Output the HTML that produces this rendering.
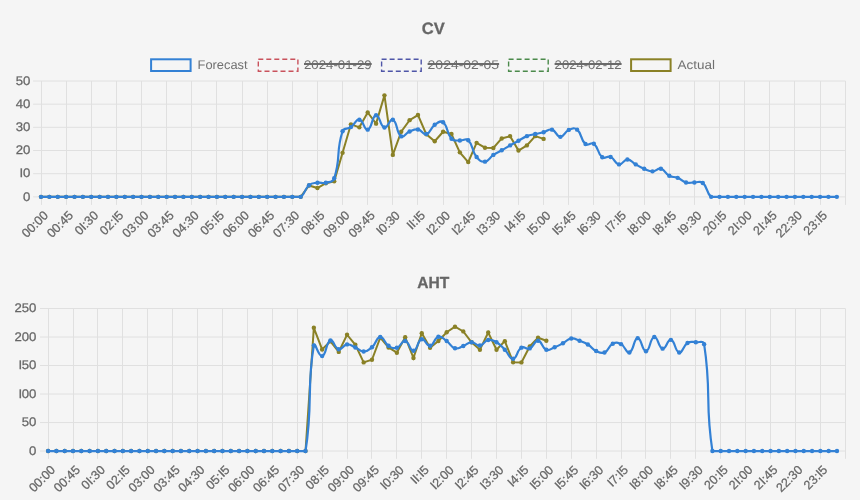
<!DOCTYPE html><html><head><meta charset="utf-8"><style>html,body{margin:0;padding:0;background:#f5f5f5;width:860px;height:500px;overflow:hidden}svg{display:block;will-change:transform}text{text-rendering:geometricPrecision}</style></head><body><svg width="860" height="500" viewBox="0 0 860 500"><text x="433.2" y="33.5" text-anchor="middle" font-family="'Liberation Sans', sans-serif" font-size="16.5" font-weight="bold" fill="#666" stroke="#666" stroke-width="0.3">CV</text><text x="433.2" y="288.1" text-anchor="middle" font-family="'Liberation Sans', sans-serif" font-size="16" font-weight="bold" fill="#666" stroke="#666" stroke-width="0.3" textLength="32" lengthAdjust="spacingAndGlyphs">AHT</text><rect x="151.1" y="59.3" width="39.5" height="11.7" fill="none" stroke="#3381d5" stroke-width="2"/><text x="197.6" y="68.9" font-family="'Liberation Sans', sans-serif" font-size="12.5" fill="#707070" textLength="50" lengthAdjust="spacingAndGlyphs">Forecast</text><rect x="258.3" y="59.2" width="39.6" height="12" fill="none" stroke="#c9525c" stroke-width="1.4" stroke-dasharray="5 3"/><text x="304" y="68.9" font-family="'Liberation Sans', sans-serif" font-size="12.5" fill="#707070" textLength="67.7" lengthAdjust="spacingAndGlyphs">2024-01-29</text><line x1="304" y1="64" x2="371.7" y2="64" stroke="#6a6a6a" stroke-width="1.8"/><rect x="381.6" y="59.2" width="39.6" height="12" fill="none" stroke="#4f56a8" stroke-width="1.4" stroke-dasharray="5 3"/><text x="427.6" y="68.9" font-family="'Liberation Sans', sans-serif" font-size="12.5" fill="#707070" textLength="71.5" lengthAdjust="spacingAndGlyphs">2024-02-05</text><line x1="427.6" y1="64" x2="499.1" y2="64" stroke="#6a6a6a" stroke-width="1.8"/><rect x="508.6" y="59.2" width="39.6" height="12" fill="none" stroke="#4b8a4b" stroke-width="1.4" stroke-dasharray="5 3"/><text x="554.6" y="68.9" font-family="'Liberation Sans', sans-serif" font-size="12.5" fill="#707070" textLength="67" lengthAdjust="spacingAndGlyphs">2024-02-12</text><line x1="554.6" y1="64" x2="621.6" y2="64" stroke="#6a6a6a" stroke-width="1.8"/><rect x="631.1" y="59.3" width="39.5" height="11.7" fill="none" stroke="#8a8126" stroke-width="2"/><text x="677.6" y="68.9" font-family="'Liberation Sans', sans-serif" font-size="12.5" fill="#707070" textLength="37.5" lengthAdjust="spacingAndGlyphs">Actual</text><g stroke="#e0e0e0" stroke-width="1"><line x1="33.1" y1="196.85" x2="845.5" y2="196.85"/><line x1="33.1" y1="173.68" x2="845.5" y2="173.68"/><line x1="33.1" y1="150.51" x2="845.5" y2="150.51"/><line x1="33.1" y1="127.34" x2="845.5" y2="127.34"/><line x1="33.1" y1="104.17" x2="845.5" y2="104.17"/><line x1="33.1" y1="81" x2="845.5" y2="81"/><line x1="41.5" y1="81" x2="41.5" y2="204.9"/><line x1="66.5" y1="81" x2="66.5" y2="204.9"/><line x1="91.5" y1="81" x2="91.5" y2="204.9"/><line x1="116.5" y1="81" x2="116.5" y2="204.9"/><line x1="141.5" y1="81" x2="141.5" y2="204.9"/><line x1="166.5" y1="81" x2="166.5" y2="204.9"/><line x1="191.5" y1="81" x2="191.5" y2="204.9"/><line x1="216.5" y1="81" x2="216.5" y2="204.9"/><line x1="242.5" y1="81" x2="242.5" y2="204.9"/><line x1="267.5" y1="81" x2="267.5" y2="204.9"/><line x1="292.5" y1="81" x2="292.5" y2="204.9"/><line x1="317.5" y1="81" x2="317.5" y2="204.9"/><line x1="342.5" y1="81" x2="342.5" y2="204.9"/><line x1="367.5" y1="81" x2="367.5" y2="204.9"/><line x1="392.5" y1="81" x2="392.5" y2="204.9"/><line x1="417.5" y1="81" x2="417.5" y2="204.9"/><line x1="443.5" y1="81" x2="443.5" y2="204.9"/><line x1="468.5" y1="81" x2="468.5" y2="204.9"/><line x1="493.5" y1="81" x2="493.5" y2="204.9"/><line x1="518.5" y1="81" x2="518.5" y2="204.9"/><line x1="543.5" y1="81" x2="543.5" y2="204.9"/><line x1="568.5" y1="81" x2="568.5" y2="204.9"/><line x1="593.5" y1="81" x2="593.5" y2="204.9"/><line x1="619.5" y1="81" x2="619.5" y2="204.9"/><line x1="644.5" y1="81" x2="644.5" y2="204.9"/><line x1="669.5" y1="81" x2="669.5" y2="204.9"/><line x1="694.5" y1="81" x2="694.5" y2="204.9"/><line x1="719.5" y1="81" x2="719.5" y2="204.9"/><line x1="744.5" y1="81" x2="744.5" y2="204.9"/><line x1="769.5" y1="81" x2="769.5" y2="204.9"/><line x1="794.5" y1="81" x2="794.5" y2="204.9"/><line x1="820.5" y1="81" x2="820.5" y2="204.9"/><line x1="845.5" y1="81" x2="845.5" y2="204.9"/></g><g fill="#666666" font-size="12.5" font-family="'Liberation Sans', sans-serif" stroke="#666666" stroke-width="0.25"><text transform="translate(30.3 200.65) scale(1.055 1)" text-anchor="end">0</text><text transform="translate(30.3 177.48) scale(1.055 1)" text-anchor="end">I<tspan dx="-0.3">0</tspan></text><text transform="translate(30.3 154.31) scale(1.055 1)" text-anchor="end">20</text><text transform="translate(30.3 131.14) scale(1.055 1)" text-anchor="end">30</text><text transform="translate(30.3 107.97) scale(1.055 1)" text-anchor="end">40</text><text transform="translate(30.3 84.8) scale(1.055 1)" text-anchor="end">50</text></g><g fill="#666666" font-size="12.5" font-family="'Liberation Sans', sans-serif" stroke="#666666" stroke-width="0.25"><text transform="translate(48.9 216.2) rotate(-45)" x="0" y="0" text-anchor="end">00:00</text><text transform="translate(74.03 216.2) rotate(-45)" x="0" y="0" text-anchor="end">00:45</text><text transform="translate(99.16 216.2) rotate(-45)" x="0" y="0" text-anchor="end">0I<tspan dx="-0.3">:</tspan>30</text><text transform="translate(124.29 216.2) rotate(-45)" x="0" y="0" text-anchor="end">02:I<tspan dx="-0.3">5</tspan></text><text transform="translate(149.42 216.2) rotate(-45)" x="0" y="0" text-anchor="end">03:00</text><text transform="translate(174.56 216.2) rotate(-45)" x="0" y="0" text-anchor="end">03:45</text><text transform="translate(199.69 216.2) rotate(-45)" x="0" y="0" text-anchor="end">04:30</text><text transform="translate(224.82 216.2) rotate(-45)" x="0" y="0" text-anchor="end">05:I<tspan dx="-0.3">5</tspan></text><text transform="translate(249.95 216.2) rotate(-45)" x="0" y="0" text-anchor="end">06:00</text><text transform="translate(275.08 216.2) rotate(-45)" x="0" y="0" text-anchor="end">06:45</text><text transform="translate(300.21 216.2) rotate(-45)" x="0" y="0" text-anchor="end">07:30</text><text transform="translate(325.34 216.2) rotate(-45)" x="0" y="0" text-anchor="end">08:I<tspan dx="-0.3">5</tspan></text><text transform="translate(350.47 216.2) rotate(-45)" x="0" y="0" text-anchor="end">09:00</text><text transform="translate(375.6 216.2) rotate(-45)" x="0" y="0" text-anchor="end">09:45</text><text transform="translate(400.73 216.2) rotate(-45)" x="0" y="0" text-anchor="end">I<tspan dx="-0.3">0</tspan>:30</text><text transform="translate(425.87 216.2) rotate(-45)" x="0" y="0" text-anchor="end">I<tspan dx="-0.3">I</tspan><tspan dx="-0.3">:</tspan>I<tspan dx="-0.3">5</tspan></text><text transform="translate(451 216.2) rotate(-45)" x="0" y="0" text-anchor="end">I<tspan dx="-0.3">2</tspan>:00</text><text transform="translate(476.13 216.2) rotate(-45)" x="0" y="0" text-anchor="end">I<tspan dx="-0.3">2</tspan>:45</text><text transform="translate(501.26 216.2) rotate(-45)" x="0" y="0" text-anchor="end">I<tspan dx="-0.3">3</tspan>:30</text><text transform="translate(526.39 216.2) rotate(-45)" x="0" y="0" text-anchor="end">I<tspan dx="-0.3">4</tspan>:I<tspan dx="-0.3">5</tspan></text><text transform="translate(551.52 216.2) rotate(-45)" x="0" y="0" text-anchor="end">I<tspan dx="-0.3">5</tspan>:00</text><text transform="translate(576.65 216.2) rotate(-45)" x="0" y="0" text-anchor="end">I<tspan dx="-0.3">5</tspan>:45</text><text transform="translate(601.78 216.2) rotate(-45)" x="0" y="0" text-anchor="end">I<tspan dx="-0.3">6</tspan>:30</text><text transform="translate(626.91 216.2) rotate(-45)" x="0" y="0" text-anchor="end">I<tspan dx="-0.3">7</tspan>:I<tspan dx="-0.3">5</tspan></text><text transform="translate(652.04 216.2) rotate(-45)" x="0" y="0" text-anchor="end">I<tspan dx="-0.3">8</tspan>:00</text><text transform="translate(677.18 216.2) rotate(-45)" x="0" y="0" text-anchor="end">I<tspan dx="-0.3">8</tspan>:45</text><text transform="translate(702.31 216.2) rotate(-45)" x="0" y="0" text-anchor="end">I<tspan dx="-0.3">9</tspan>:30</text><text transform="translate(727.44 216.2) rotate(-45)" x="0" y="0" text-anchor="end">20:I<tspan dx="-0.3">5</tspan></text><text transform="translate(752.57 216.2) rotate(-45)" x="0" y="0" text-anchor="end">2I<tspan dx="-0.3">:</tspan>00</text><text transform="translate(777.7 216.2) rotate(-45)" x="0" y="0" text-anchor="end">2I<tspan dx="-0.3">:</tspan>45</text><text transform="translate(802.83 216.2) rotate(-45)" x="0" y="0" text-anchor="end">22:30</text><text transform="translate(827.96 216.2) rotate(-45)" x="0" y="0" text-anchor="end">23:I<tspan dx="-0.3">5</tspan></text></g><path d="M41 196.85 L49.38 196.85 L57.75 196.85 L66.13 196.85 L74.51 196.85 L82.89 196.85 L91.26 196.85 L99.64 196.85 L108.02 196.85 L116.39 196.85 L124.77 196.85 L133.15 196.85 L141.52 196.85 L149.9 196.85 L158.28 196.85 L166.66 196.85 L175.03 196.85 L183.41 196.85 L191.79 196.85 L200.16 196.85 L208.54 196.85 L216.92 196.85 L225.29 196.85 L233.67 196.85 L242.05 196.85 L250.43 196.85 L258.8 196.85 L267.18 196.85 L275.56 196.85 L283.93 196.85 L292.31 196.85 L300.69 196.85 L309.06 185.5 L317.44 188.05 L325.82 183.18 L334.2 181.33 L342.57 152.83 L350.95 124.33 L359.33 127.34 L367.7 112.51 L376.08 123.63 L384.46 95.37 L392.83 154.91 L401.21 131.74 L409.59 120.16 L417.97 115.06 L426.34 134.29 L434.72 141.24 L443.1 131.74 L451.47 134.06 L459.85 152.36 L468.23 162.09 L476.6 142.86 L484.98 147.73 L493.36 147.96 L501.74 138.46 L510.11 136.14 L518.49 150.51 L526.87 145.41 L535.24 136.14 L543.62 138.92" fill="none" stroke="#8a8126" stroke-width="2" stroke-linejoin="miter"/><g fill="#8a8126"><circle cx="41" cy="196.85" r="2.2"/><circle cx="49.38" cy="196.85" r="2.2"/><circle cx="57.75" cy="196.85" r="2.2"/><circle cx="66.13" cy="196.85" r="2.2"/><circle cx="74.51" cy="196.85" r="2.2"/><circle cx="82.89" cy="196.85" r="2.2"/><circle cx="91.26" cy="196.85" r="2.2"/><circle cx="99.64" cy="196.85" r="2.2"/><circle cx="108.02" cy="196.85" r="2.2"/><circle cx="116.39" cy="196.85" r="2.2"/><circle cx="124.77" cy="196.85" r="2.2"/><circle cx="133.15" cy="196.85" r="2.2"/><circle cx="141.52" cy="196.85" r="2.2"/><circle cx="149.9" cy="196.85" r="2.2"/><circle cx="158.28" cy="196.85" r="2.2"/><circle cx="166.66" cy="196.85" r="2.2"/><circle cx="175.03" cy="196.85" r="2.2"/><circle cx="183.41" cy="196.85" r="2.2"/><circle cx="191.79" cy="196.85" r="2.2"/><circle cx="200.16" cy="196.85" r="2.2"/><circle cx="208.54" cy="196.85" r="2.2"/><circle cx="216.92" cy="196.85" r="2.2"/><circle cx="225.29" cy="196.85" r="2.2"/><circle cx="233.67" cy="196.85" r="2.2"/><circle cx="242.05" cy="196.85" r="2.2"/><circle cx="250.43" cy="196.85" r="2.2"/><circle cx="258.8" cy="196.85" r="2.2"/><circle cx="267.18" cy="196.85" r="2.2"/><circle cx="275.56" cy="196.85" r="2.2"/><circle cx="283.93" cy="196.85" r="2.2"/><circle cx="292.31" cy="196.85" r="2.2"/><circle cx="300.69" cy="196.85" r="2.2"/><circle cx="309.06" cy="185.5" r="2.2"/><circle cx="317.44" cy="188.05" r="2.2"/><circle cx="325.82" cy="183.18" r="2.2"/><circle cx="334.2" cy="181.33" r="2.2"/><circle cx="342.57" cy="152.83" r="2.2"/><circle cx="350.95" cy="124.33" r="2.2"/><circle cx="359.33" cy="127.34" r="2.2"/><circle cx="367.7" cy="112.51" r="2.2"/><circle cx="376.08" cy="123.63" r="2.2"/><circle cx="384.46" cy="95.37" r="2.2"/><circle cx="392.83" cy="154.91" r="2.2"/><circle cx="401.21" cy="131.74" r="2.2"/><circle cx="409.59" cy="120.16" r="2.2"/><circle cx="417.97" cy="115.06" r="2.2"/><circle cx="426.34" cy="134.29" r="2.2"/><circle cx="434.72" cy="141.24" r="2.2"/><circle cx="443.1" cy="131.74" r="2.2"/><circle cx="451.47" cy="134.06" r="2.2"/><circle cx="459.85" cy="152.36" r="2.2"/><circle cx="468.23" cy="162.09" r="2.2"/><circle cx="476.6" cy="142.86" r="2.2"/><circle cx="484.98" cy="147.73" r="2.2"/><circle cx="493.36" cy="147.96" r="2.2"/><circle cx="501.74" cy="138.46" r="2.2"/><circle cx="510.11" cy="136.14" r="2.2"/><circle cx="518.49" cy="150.51" r="2.2"/><circle cx="526.87" cy="145.41" r="2.2"/><circle cx="535.24" cy="136.14" r="2.2"/><circle cx="543.62" cy="138.92" r="2.2"/></g><path d="M41 196.85 C45.19 196.85 45.19 196.85 49.38 196.85 C53.57 196.85 53.57 196.85 57.75 196.85 C61.94 196.85 61.94 196.85 66.13 196.85 C70.32 196.85 70.32 196.85 74.51 196.85 C78.7 196.85 78.7 196.85 82.89 196.85 C87.07 196.85 87.07 196.85 91.26 196.85 C95.45 196.85 95.45 196.85 99.64 196.85 C103.83 196.85 103.83 196.85 108.02 196.85 C112.2 196.85 112.2 196.85 116.39 196.85 C120.58 196.85 120.58 196.85 124.77 196.85 C128.96 196.85 128.96 196.85 133.15 196.85 C137.34 196.85 137.34 196.85 141.52 196.85 C145.71 196.85 145.71 196.85 149.9 196.85 C154.09 196.85 154.09 196.85 158.28 196.85 C162.47 196.85 162.47 196.85 166.66 196.85 C170.84 196.85 170.84 196.85 175.03 196.85 C179.22 196.85 179.22 196.85 183.41 196.85 C187.6 196.85 187.6 196.85 191.79 196.85 C195.97 196.85 195.97 196.85 200.16 196.85 C204.35 196.85 204.35 196.85 208.54 196.85 C212.73 196.85 212.73 196.85 216.92 196.85 C221.11 196.85 221.11 196.85 225.29 196.85 C229.48 196.85 229.48 196.85 233.67 196.85 C237.86 196.85 237.86 196.85 242.05 196.85 C246.24 196.85 246.24 196.85 250.43 196.85 C254.61 196.85 254.61 196.85 258.8 196.85 C262.99 196.85 262.99 196.85 267.18 196.85 C271.37 196.85 271.37 196.85 275.56 196.85 C279.74 196.85 279.74 196.85 283.93 196.85 C288.12 196.85 288.12 196.85 292.31 196.85 C296.5 196.85 297.59 196.85 300.69 196.85 C305.97 193.2 303.87 189.65 309.06 185.26 C312.25 182.58 313.16 183.37 317.44 182.72 C321.54 182.09 321.88 183.75 325.82 182.72 C330.26 181.55 332.81 182.57 334.2 178.31 C341.19 156.85 335.57 152.69 342.57 131.28 C343.94 127.09 347.13 129.75 350.95 127.11 C355.51 123.95 355.45 119.1 359.33 119.69 C363.83 120.38 364.02 130.62 367.7 129.66 C372.4 128.42 371.66 115.84 376.08 115.29 C380.03 114.8 379.73 126.33 384.46 127.57 C388.11 128.53 389.64 118.02 392.83 119.69 C398.02 122.42 395.7 132.49 401.21 136.38 C404.07 138.39 405.16 133.35 409.59 131.51 C413.54 129.87 413.99 128.82 417.97 129.43 C422.37 130.1 422.71 135.06 426.34 134.06 C431.08 132.75 429.79 128.26 434.72 124.79 C438.17 122.36 440.4 120.01 443.1 122.24 C448.78 126.96 445.75 132.45 451.47 138.69 C454.13 141.6 455.61 140.14 459.85 140.55 C463.99 140.95 465.63 137.77 468.23 140.32 C474.01 145.99 471.07 149.95 476.6 157 C479.44 160.61 481.03 162.12 484.98 161.63 C489.41 161.08 488.93 157.91 493.36 154.91 C497.31 152.24 497.57 152.64 501.74 150.28 C505.95 147.89 505.9 147.8 510.11 145.41 C514.28 143.05 514.3 143.1 518.49 140.78 C522.68 138.46 522.46 137.91 526.87 136.14 C530.84 134.55 531.04 135.05 535.24 134.06 C539.42 133.08 539.47 133.3 543.62 132.21 C547.85 131.09 548.29 128.63 552 129.66 C556.67 130.95 556.16 136.78 560.37 136.84 C564.53 136.9 564.02 131.92 568.75 129.89 C572.39 128.33 574.32 127.29 577.13 129.66 C582.7 134.36 579.93 139.32 585.5 144.02 C588.31 146.39 590.98 141.51 593.88 143.79 C599.36 148.11 596.78 152.91 602.26 157.23 C605.16 159.51 607.05 155.46 610.64 157 C615.43 159.05 614.52 163.73 619.01 164.41 C622.9 165 623.2 159.55 627.39 159.55 C631.58 159.55 631.53 162.07 635.77 164.41 C639.91 166.7 639.79 167.01 644.14 168.81 C648.17 170.48 648.33 171.36 652.52 171.36 C656.71 171.36 657.16 167.83 660.9 168.81 C665.54 170.03 664.6 173.25 669.28 175.77 C672.98 177.76 673.68 176.26 677.65 177.85 C682.06 179.62 681.56 181.25 686.03 182.48 C689.94 183.57 690.22 182.37 694.41 182.48 C698.6 182.6 699.93 180.5 702.78 182.95 C708.31 187.68 705.63 192.27 711.16 196.85 C714.01 196.85 715.35 196.85 719.54 196.85 C723.73 196.85 723.73 196.85 727.91 196.85 C732.1 196.85 732.1 196.85 736.29 196.85 C740.48 196.85 740.48 196.85 744.67 196.85 C748.86 196.85 748.86 196.85 753.05 196.85 C757.23 196.85 757.23 196.85 761.42 196.85 C765.61 196.85 765.61 196.85 769.8 196.85 C773.99 196.85 773.99 196.85 778.18 196.85 C782.36 196.85 782.36 196.85 786.55 196.85 C790.74 196.85 790.74 196.85 794.93 196.85 C799.12 196.85 799.12 196.85 803.31 196.85 C807.5 196.85 807.5 196.85 811.68 196.85 C815.87 196.85 815.87 196.85 820.06 196.85 C824.25 196.85 824.25 196.85 828.44 196.85 C832.63 196.85 832.63 196.85 836.82 196.85" fill="none" stroke="#3381d5" stroke-width="2.2"/><g fill="#3381d5"><circle cx="41" cy="196.85" r="2.2"/><circle cx="49.38" cy="196.85" r="2.2"/><circle cx="57.75" cy="196.85" r="2.2"/><circle cx="66.13" cy="196.85" r="2.2"/><circle cx="74.51" cy="196.85" r="2.2"/><circle cx="82.89" cy="196.85" r="2.2"/><circle cx="91.26" cy="196.85" r="2.2"/><circle cx="99.64" cy="196.85" r="2.2"/><circle cx="108.02" cy="196.85" r="2.2"/><circle cx="116.39" cy="196.85" r="2.2"/><circle cx="124.77" cy="196.85" r="2.2"/><circle cx="133.15" cy="196.85" r="2.2"/><circle cx="141.52" cy="196.85" r="2.2"/><circle cx="149.9" cy="196.85" r="2.2"/><circle cx="158.28" cy="196.85" r="2.2"/><circle cx="166.66" cy="196.85" r="2.2"/><circle cx="175.03" cy="196.85" r="2.2"/><circle cx="183.41" cy="196.85" r="2.2"/><circle cx="191.79" cy="196.85" r="2.2"/><circle cx="200.16" cy="196.85" r="2.2"/><circle cx="208.54" cy="196.85" r="2.2"/><circle cx="216.92" cy="196.85" r="2.2"/><circle cx="225.29" cy="196.85" r="2.2"/><circle cx="233.67" cy="196.85" r="2.2"/><circle cx="242.05" cy="196.85" r="2.2"/><circle cx="250.43" cy="196.85" r="2.2"/><circle cx="258.8" cy="196.85" r="2.2"/><circle cx="267.18" cy="196.85" r="2.2"/><circle cx="275.56" cy="196.85" r="2.2"/><circle cx="283.93" cy="196.85" r="2.2"/><circle cx="292.31" cy="196.85" r="2.2"/><circle cx="300.69" cy="196.85" r="2.2"/><circle cx="309.06" cy="185.26" r="2.2"/><circle cx="317.44" cy="182.72" r="2.2"/><circle cx="325.82" cy="182.72" r="2.2"/><circle cx="334.2" cy="178.31" r="2.2"/><circle cx="342.57" cy="131.28" r="2.2"/><circle cx="350.95" cy="127.11" r="2.2"/><circle cx="359.33" cy="119.69" r="2.2"/><circle cx="367.7" cy="129.66" r="2.2"/><circle cx="376.08" cy="115.29" r="2.2"/><circle cx="384.46" cy="127.57" r="2.2"/><circle cx="392.83" cy="119.69" r="2.2"/><circle cx="401.21" cy="136.38" r="2.2"/><circle cx="409.59" cy="131.51" r="2.2"/><circle cx="417.97" cy="129.43" r="2.2"/><circle cx="426.34" cy="134.06" r="2.2"/><circle cx="434.72" cy="124.79" r="2.2"/><circle cx="443.1" cy="122.24" r="2.2"/><circle cx="451.47" cy="138.69" r="2.2"/><circle cx="459.85" cy="140.55" r="2.2"/><circle cx="468.23" cy="140.32" r="2.2"/><circle cx="476.6" cy="157" r="2.2"/><circle cx="484.98" cy="161.63" r="2.2"/><circle cx="493.36" cy="154.91" r="2.2"/><circle cx="501.74" cy="150.28" r="2.2"/><circle cx="510.11" cy="145.41" r="2.2"/><circle cx="518.49" cy="140.78" r="2.2"/><circle cx="526.87" cy="136.14" r="2.2"/><circle cx="535.24" cy="134.06" r="2.2"/><circle cx="543.62" cy="132.21" r="2.2"/><circle cx="552" cy="129.66" r="2.2"/><circle cx="560.37" cy="136.84" r="2.2"/><circle cx="568.75" cy="129.89" r="2.2"/><circle cx="577.13" cy="129.66" r="2.2"/><circle cx="585.5" cy="144.02" r="2.2"/><circle cx="593.88" cy="143.79" r="2.2"/><circle cx="602.26" cy="157.23" r="2.2"/><circle cx="610.64" cy="157" r="2.2"/><circle cx="619.01" cy="164.41" r="2.2"/><circle cx="627.39" cy="159.55" r="2.2"/><circle cx="635.77" cy="164.41" r="2.2"/><circle cx="644.14" cy="168.81" r="2.2"/><circle cx="652.52" cy="171.36" r="2.2"/><circle cx="660.9" cy="168.81" r="2.2"/><circle cx="669.28" cy="175.77" r="2.2"/><circle cx="677.65" cy="177.85" r="2.2"/><circle cx="686.03" cy="182.48" r="2.2"/><circle cx="694.41" cy="182.48" r="2.2"/><circle cx="702.78" cy="182.95" r="2.2"/><circle cx="711.16" cy="196.85" r="2.2"/><circle cx="719.54" cy="196.85" r="2.2"/><circle cx="727.91" cy="196.85" r="2.2"/><circle cx="736.29" cy="196.85" r="2.2"/><circle cx="744.67" cy="196.85" r="2.2"/><circle cx="753.05" cy="196.85" r="2.2"/><circle cx="761.42" cy="196.85" r="2.2"/><circle cx="769.8" cy="196.85" r="2.2"/><circle cx="778.18" cy="196.85" r="2.2"/><circle cx="786.55" cy="196.85" r="2.2"/><circle cx="794.93" cy="196.85" r="2.2"/><circle cx="803.31" cy="196.85" r="2.2"/><circle cx="811.68" cy="196.85" r="2.2"/><circle cx="820.06" cy="196.85" r="2.2"/><circle cx="828.44" cy="196.85" r="2.2"/><circle cx="836.82" cy="196.85" r="2.2"/></g><g stroke="#e0e0e0" stroke-width="1"><line x1="40" y1="451.05" x2="845.5" y2="451.05"/><line x1="40" y1="422.54" x2="845.5" y2="422.54"/><line x1="40" y1="394.03" x2="845.5" y2="394.03"/><line x1="40" y1="365.52" x2="845.5" y2="365.52"/><line x1="40" y1="337.01" x2="845.5" y2="337.01"/><line x1="40" y1="308.5" x2="845.5" y2="308.5"/><line x1="48.5" y1="308.5" x2="48.5" y2="458.8"/><line x1="73.5" y1="308.5" x2="73.5" y2="458.8"/><line x1="97.5" y1="308.5" x2="97.5" y2="458.8"/><line x1="122.5" y1="308.5" x2="122.5" y2="458.8"/><line x1="147.5" y1="308.5" x2="147.5" y2="458.8"/><line x1="172.5" y1="308.5" x2="172.5" y2="458.8"/><line x1="197.5" y1="308.5" x2="197.5" y2="458.8"/><line x1="222.5" y1="308.5" x2="222.5" y2="458.8"/><line x1="247.5" y1="308.5" x2="247.5" y2="458.8"/><line x1="272.5" y1="308.5" x2="272.5" y2="458.8"/><line x1="297.5" y1="308.5" x2="297.5" y2="458.8"/><line x1="322.5" y1="308.5" x2="322.5" y2="458.8"/><line x1="347.5" y1="308.5" x2="347.5" y2="458.8"/><line x1="371.5" y1="308.5" x2="371.5" y2="458.8"/><line x1="396.5" y1="308.5" x2="396.5" y2="458.8"/><line x1="421.5" y1="308.5" x2="421.5" y2="458.8"/><line x1="446.5" y1="308.5" x2="446.5" y2="458.8"/><line x1="471.5" y1="308.5" x2="471.5" y2="458.8"/><line x1="496.5" y1="308.5" x2="496.5" y2="458.8"/><line x1="521.5" y1="308.5" x2="521.5" y2="458.8"/><line x1="546.5" y1="308.5" x2="546.5" y2="458.8"/><line x1="571.5" y1="308.5" x2="571.5" y2="458.8"/><line x1="596.5" y1="308.5" x2="596.5" y2="458.8"/><line x1="621.5" y1="308.5" x2="621.5" y2="458.8"/><line x1="645.5" y1="308.5" x2="645.5" y2="458.8"/><line x1="670.5" y1="308.5" x2="670.5" y2="458.8"/><line x1="695.5" y1="308.5" x2="695.5" y2="458.8"/><line x1="720.5" y1="308.5" x2="720.5" y2="458.8"/><line x1="745.5" y1="308.5" x2="745.5" y2="458.8"/><line x1="770.5" y1="308.5" x2="770.5" y2="458.8"/><line x1="795.5" y1="308.5" x2="795.5" y2="458.8"/><line x1="820.5" y1="308.5" x2="820.5" y2="458.8"/><line x1="845.5" y1="308.5" x2="845.5" y2="458.8"/></g><g fill="#666666" font-size="12.5" font-family="'Liberation Sans', sans-serif" stroke="#666666" stroke-width="0.25"><text transform="translate(36.4 454.85) scale(1.055 1)" text-anchor="end">0</text><text transform="translate(36.4 426.34) scale(1.055 1)" text-anchor="end">50</text><text transform="translate(36.4 397.83) scale(1.055 1)" text-anchor="end">I<tspan dx="-0.3">0</tspan>0</text><text transform="translate(36.4 369.32) scale(1.055 1)" text-anchor="end">I<tspan dx="-0.3">5</tspan>0</text><text transform="translate(36.4 340.81) scale(1.055 1)" text-anchor="end">200</text><text transform="translate(36.4 312.3) scale(1.055 1)" text-anchor="end">250</text></g><g fill="#666666" font-size="12.5" font-family="'Liberation Sans', sans-serif" stroke="#666666" stroke-width="0.25"><text transform="translate(56 470.7) rotate(-45)" x="0" y="0" text-anchor="end">00:00</text><text transform="translate(80.91 470.7) rotate(-45)" x="0" y="0" text-anchor="end">00:45</text><text transform="translate(105.82 470.7) rotate(-45)" x="0" y="0" text-anchor="end">0I<tspan dx="-0.3">:</tspan>30</text><text transform="translate(130.74 470.7) rotate(-45)" x="0" y="0" text-anchor="end">02:I<tspan dx="-0.3">5</tspan></text><text transform="translate(155.65 470.7) rotate(-45)" x="0" y="0" text-anchor="end">03:00</text><text transform="translate(180.56 470.7) rotate(-45)" x="0" y="0" text-anchor="end">03:45</text><text transform="translate(205.47 470.7) rotate(-45)" x="0" y="0" text-anchor="end">04:30</text><text transform="translate(230.38 470.7) rotate(-45)" x="0" y="0" text-anchor="end">05:I<tspan dx="-0.3">5</tspan></text><text transform="translate(255.3 470.7) rotate(-45)" x="0" y="0" text-anchor="end">06:00</text><text transform="translate(280.21 470.7) rotate(-45)" x="0" y="0" text-anchor="end">06:45</text><text transform="translate(305.12 470.7) rotate(-45)" x="0" y="0" text-anchor="end">07:30</text><text transform="translate(330.03 470.7) rotate(-45)" x="0" y="0" text-anchor="end">08:I<tspan dx="-0.3">5</tspan></text><text transform="translate(354.94 470.7) rotate(-45)" x="0" y="0" text-anchor="end">09:00</text><text transform="translate(379.86 470.7) rotate(-45)" x="0" y="0" text-anchor="end">09:45</text><text transform="translate(404.77 470.7) rotate(-45)" x="0" y="0" text-anchor="end">I<tspan dx="-0.3">0</tspan>:30</text><text transform="translate(429.68 470.7) rotate(-45)" x="0" y="0" text-anchor="end">I<tspan dx="-0.3">I</tspan><tspan dx="-0.3">:</tspan>I<tspan dx="-0.3">5</tspan></text><text transform="translate(454.59 470.7) rotate(-45)" x="0" y="0" text-anchor="end">I<tspan dx="-0.3">2</tspan>:00</text><text transform="translate(479.5 470.7) rotate(-45)" x="0" y="0" text-anchor="end">I<tspan dx="-0.3">2</tspan>:45</text><text transform="translate(504.42 470.7) rotate(-45)" x="0" y="0" text-anchor="end">I<tspan dx="-0.3">3</tspan>:30</text><text transform="translate(529.33 470.7) rotate(-45)" x="0" y="0" text-anchor="end">I<tspan dx="-0.3">4</tspan>:I<tspan dx="-0.3">5</tspan></text><text transform="translate(554.24 470.7) rotate(-45)" x="0" y="0" text-anchor="end">I<tspan dx="-0.3">5</tspan>:00</text><text transform="translate(579.15 470.7) rotate(-45)" x="0" y="0" text-anchor="end">I<tspan dx="-0.3">5</tspan>:45</text><text transform="translate(604.06 470.7) rotate(-45)" x="0" y="0" text-anchor="end">I<tspan dx="-0.3">6</tspan>:30</text><text transform="translate(628.98 470.7) rotate(-45)" x="0" y="0" text-anchor="end">I<tspan dx="-0.3">7</tspan>:I<tspan dx="-0.3">5</tspan></text><text transform="translate(653.89 470.7) rotate(-45)" x="0" y="0" text-anchor="end">I<tspan dx="-0.3">8</tspan>:00</text><text transform="translate(678.8 470.7) rotate(-45)" x="0" y="0" text-anchor="end">I<tspan dx="-0.3">8</tspan>:45</text><text transform="translate(703.71 470.7) rotate(-45)" x="0" y="0" text-anchor="end">I<tspan dx="-0.3">9</tspan>:30</text><text transform="translate(728.62 470.7) rotate(-45)" x="0" y="0" text-anchor="end">20:I<tspan dx="-0.3">5</tspan></text><text transform="translate(753.54 470.7) rotate(-45)" x="0" y="0" text-anchor="end">2I<tspan dx="-0.3">:</tspan>00</text><text transform="translate(778.45 470.7) rotate(-45)" x="0" y="0" text-anchor="end">2I<tspan dx="-0.3">:</tspan>45</text><text transform="translate(803.36 470.7) rotate(-45)" x="0" y="0" text-anchor="end">22:30</text><text transform="translate(828.27 470.7) rotate(-45)" x="0" y="0" text-anchor="end">23:I<tspan dx="-0.3">5</tspan></text></g><path d="M48.1 451.05 L56.4 451.05 L64.71 451.05 L73.01 451.05 L81.32 451.05 L89.62 451.05 L97.92 451.05 L106.23 451.05 L114.53 451.05 L122.84 451.05 L131.14 451.05 L139.44 451.05 L147.75 451.05 L156.05 451.05 L164.36 451.05 L172.66 451.05 L180.96 451.05 L189.27 451.05 L197.57 451.05 L205.88 451.05 L214.18 451.05 L222.48 451.05 L230.79 451.05 L239.09 451.05 L247.4 451.05 L255.7 451.05 L264 451.05 L272.31 451.05 L280.61 451.05 L288.92 451.05 L297.22 451.05 L305.52 451.05 L313.83 327.77 L322.13 349.44 L330.44 341.29 L338.74 351.89 L347.04 334.73 L355.35 344.76 L363.65 362.38 L371.96 359.76 L380.26 337.58 L388.56 347.44 L396.87 352.69 L405.17 337.24 L413.48 357.94 L421.78 333.19 L430.08 347.73 L438.39 341 L446.69 332.22 L455 326.75 L463.3 331.42 L471.6 342.26 L479.91 349.73 L488.21 332.45 L496.52 349.73 L504.82 341.17 L513.12 362.21 L521.43 362.38 L529.73 346.42 L538.04 337.69 L546.34 340.72" fill="none" stroke="#8a8126" stroke-width="2" stroke-linejoin="miter"/><g fill="#8a8126"><circle cx="48.1" cy="451.05" r="2.2"/><circle cx="56.4" cy="451.05" r="2.2"/><circle cx="64.71" cy="451.05" r="2.2"/><circle cx="73.01" cy="451.05" r="2.2"/><circle cx="81.32" cy="451.05" r="2.2"/><circle cx="89.62" cy="451.05" r="2.2"/><circle cx="97.92" cy="451.05" r="2.2"/><circle cx="106.23" cy="451.05" r="2.2"/><circle cx="114.53" cy="451.05" r="2.2"/><circle cx="122.84" cy="451.05" r="2.2"/><circle cx="131.14" cy="451.05" r="2.2"/><circle cx="139.44" cy="451.05" r="2.2"/><circle cx="147.75" cy="451.05" r="2.2"/><circle cx="156.05" cy="451.05" r="2.2"/><circle cx="164.36" cy="451.05" r="2.2"/><circle cx="172.66" cy="451.05" r="2.2"/><circle cx="180.96" cy="451.05" r="2.2"/><circle cx="189.27" cy="451.05" r="2.2"/><circle cx="197.57" cy="451.05" r="2.2"/><circle cx="205.88" cy="451.05" r="2.2"/><circle cx="214.18" cy="451.05" r="2.2"/><circle cx="222.48" cy="451.05" r="2.2"/><circle cx="230.79" cy="451.05" r="2.2"/><circle cx="239.09" cy="451.05" r="2.2"/><circle cx="247.4" cy="451.05" r="2.2"/><circle cx="255.7" cy="451.05" r="2.2"/><circle cx="264" cy="451.05" r="2.2"/><circle cx="272.31" cy="451.05" r="2.2"/><circle cx="280.61" cy="451.05" r="2.2"/><circle cx="288.92" cy="451.05" r="2.2"/><circle cx="297.22" cy="451.05" r="2.2"/><circle cx="305.52" cy="451.05" r="2.2"/><circle cx="313.83" cy="327.77" r="2.2"/><circle cx="322.13" cy="349.44" r="2.2"/><circle cx="330.44" cy="341.29" r="2.2"/><circle cx="338.74" cy="351.89" r="2.2"/><circle cx="347.04" cy="334.73" r="2.2"/><circle cx="355.35" cy="344.76" r="2.2"/><circle cx="363.65" cy="362.38" r="2.2"/><circle cx="371.96" cy="359.76" r="2.2"/><circle cx="380.26" cy="337.58" r="2.2"/><circle cx="388.56" cy="347.44" r="2.2"/><circle cx="396.87" cy="352.69" r="2.2"/><circle cx="405.17" cy="337.24" r="2.2"/><circle cx="413.48" cy="357.94" r="2.2"/><circle cx="421.78" cy="333.19" r="2.2"/><circle cx="430.08" cy="347.73" r="2.2"/><circle cx="438.39" cy="341" r="2.2"/><circle cx="446.69" cy="332.22" r="2.2"/><circle cx="455" cy="326.75" r="2.2"/><circle cx="463.3" cy="331.42" r="2.2"/><circle cx="471.6" cy="342.26" r="2.2"/><circle cx="479.91" cy="349.73" r="2.2"/><circle cx="488.21" cy="332.45" r="2.2"/><circle cx="496.52" cy="349.73" r="2.2"/><circle cx="504.82" cy="341.17" r="2.2"/><circle cx="513.12" cy="362.21" r="2.2"/><circle cx="521.43" cy="362.38" r="2.2"/><circle cx="529.73" cy="346.42" r="2.2"/><circle cx="538.04" cy="337.69" r="2.2"/><circle cx="546.34" cy="340.72" r="2.2"/></g><path d="M48.1 451.05 C52.25 451.05 52.25 451.05 56.4 451.05 C60.56 451.05 60.56 451.05 64.71 451.05 C68.86 451.05 68.86 451.05 73.01 451.05 C77.16 451.05 77.16 451.05 81.32 451.05 C85.47 451.05 85.47 451.05 89.62 451.05 C93.77 451.05 93.77 451.05 97.92 451.05 C102.08 451.05 102.08 451.05 106.23 451.05 C110.38 451.05 110.38 451.05 114.53 451.05 C118.68 451.05 118.68 451.05 122.84 451.05 C126.99 451.05 126.99 451.05 131.14 451.05 C135.29 451.05 135.29 451.05 139.44 451.05 C143.6 451.05 143.6 451.05 147.75 451.05 C151.9 451.05 151.9 451.05 156.05 451.05 C160.2 451.05 160.2 451.05 164.36 451.05 C168.51 451.05 168.51 451.05 172.66 451.05 C176.81 451.05 176.81 451.05 180.96 451.05 C185.12 451.05 185.12 451.05 189.27 451.05 C193.42 451.05 193.42 451.05 197.57 451.05 C201.72 451.05 201.72 451.05 205.88 451.05 C210.03 451.05 210.03 451.05 214.18 451.05 C218.33 451.05 218.33 451.05 222.48 451.05 C226.64 451.05 226.64 451.05 230.79 451.05 C234.94 451.05 234.94 451.05 239.09 451.05 C243.24 451.05 243.24 451.05 247.4 451.05 C251.55 451.05 251.55 451.05 255.7 451.05 C259.85 451.05 259.85 451.05 264 451.05 C268.16 451.05 268.16 451.05 272.31 451.05 C276.46 451.05 276.46 451.05 280.61 451.05 C284.76 451.05 284.76 451.05 288.92 451.05 C293.07 451.05 293.07 451.05 297.22 451.05 C301.37 451.05 304.92 451.05 305.52 451.05 C313.22 402.14 306.46 387.69 313.83 345.56 C314.76 340.22 318.56 357.22 322.13 356.11 C326.86 354.65 325.5 342.48 330.44 340.43 C333.8 339.03 334.11 348.1 338.74 349.21 C342.41 350.1 342.73 344.87 347.04 344.42 C351.03 344.01 351.28 345.77 355.35 347.5 C359.58 349.3 359.52 351.55 363.65 351.49 C367.83 351.44 368.52 350.27 371.96 347.27 C376.82 343.03 375.92 337.4 380.26 337.01 C384.23 336.66 383.7 342.65 388.56 345.79 C392 348.01 393.18 348.79 396.87 347.73 C401.49 346.4 401.39 340.33 405.17 341 C409.69 341.81 409.55 351.13 413.48 350.69 C417.85 350.21 417.03 340.58 421.78 339.18 C425.33 338.13 426.23 346.35 430.08 345.79 C434.53 345.15 433.68 338.12 438.39 336.78 C441.98 335.76 442.87 338.43 446.69 341.06 C451.17 344.13 450.34 346.8 455 348.19 C458.65 349.28 459.27 347.46 463.3 346.02 C467.58 344.49 467.41 342.37 471.6 342.26 C475.71 342.14 475.99 346.1 479.91 345.56 C484.29 344.96 483.75 340.86 488.21 339.98 C492.05 339.21 492.9 340.13 496.52 342.26 C501.2 345.01 500.86 345.8 504.82 349.73 C509.16 354.04 509.22 359.22 513.12 358.73 C517.53 358.19 516.25 350.89 521.43 347.67 C524.55 345.73 526.21 349.89 529.73 348.41 C534.51 346.41 534.05 340.4 538.04 340.72 C542.35 341.06 541.48 347.82 546.34 349.73 C549.78 351.07 550.61 348.78 554.64 347.22 C558.92 345.56 558.88 345.42 562.95 343.28 C567.19 341.06 566.87 339.17 571.25 338.49 C575.18 337.89 575.53 339.26 579.56 340.72 C583.83 342.26 584.02 342.09 587.86 344.48 C592.32 347.25 591.54 348.81 596.16 351.04 C599.85 352.81 601.06 353.97 604.47 352.46 C609.36 350.3 607.85 346.15 612.77 343.68 C616.16 341.98 617.64 342.32 621.08 344.14 C625.94 346.71 625.93 353.71 629.38 352.46 C634.23 350.71 633.4 338.46 637.68 338.15 C641.7 337.86 641.96 351.54 645.99 351.26 C650.27 350.97 649.84 337.71 654.29 337.01 C658.15 336.4 658.1 347.87 662.6 348.64 C666.4 349.3 667.21 339.01 670.9 339.86 C675.51 340.92 674.68 351.61 679.2 352.46 C682.98 353.18 682.51 346.07 687.51 343 C690.82 340.96 691.7 341.97 695.81 342.26 C700.01 342.54 703.51 340.14 704.12 344.14 C711.81 394.53 704.71 401.44 712.42 451.05 C713.02 451.05 716.57 451.05 720.72 451.05 C724.88 451.05 724.88 451.05 729.03 451.05 C733.18 451.05 733.18 451.05 737.33 451.05 C741.48 451.05 741.48 451.05 745.64 451.05 C749.79 451.05 749.79 451.05 753.94 451.05 C758.09 451.05 758.09 451.05 762.24 451.05 C766.4 451.05 766.4 451.05 770.55 451.05 C774.7 451.05 774.7 451.05 778.85 451.05 C783 451.05 783 451.05 787.16 451.05 C791.31 451.05 791.31 451.05 795.46 451.05 C799.61 451.05 799.61 451.05 803.76 451.05 C807.92 451.05 807.92 451.05 812.07 451.05 C816.22 451.05 816.22 451.05 820.37 451.05 C824.52 451.05 824.52 451.05 828.68 451.05 C832.83 451.05 832.83 451.05 836.98 451.05" fill="none" stroke="#3381d5" stroke-width="2.2"/><g fill="#3381d5"><circle cx="48.1" cy="451.05" r="2.2"/><circle cx="56.4" cy="451.05" r="2.2"/><circle cx="64.71" cy="451.05" r="2.2"/><circle cx="73.01" cy="451.05" r="2.2"/><circle cx="81.32" cy="451.05" r="2.2"/><circle cx="89.62" cy="451.05" r="2.2"/><circle cx="97.92" cy="451.05" r="2.2"/><circle cx="106.23" cy="451.05" r="2.2"/><circle cx="114.53" cy="451.05" r="2.2"/><circle cx="122.84" cy="451.05" r="2.2"/><circle cx="131.14" cy="451.05" r="2.2"/><circle cx="139.44" cy="451.05" r="2.2"/><circle cx="147.75" cy="451.05" r="2.2"/><circle cx="156.05" cy="451.05" r="2.2"/><circle cx="164.36" cy="451.05" r="2.2"/><circle cx="172.66" cy="451.05" r="2.2"/><circle cx="180.96" cy="451.05" r="2.2"/><circle cx="189.27" cy="451.05" r="2.2"/><circle cx="197.57" cy="451.05" r="2.2"/><circle cx="205.88" cy="451.05" r="2.2"/><circle cx="214.18" cy="451.05" r="2.2"/><circle cx="222.48" cy="451.05" r="2.2"/><circle cx="230.79" cy="451.05" r="2.2"/><circle cx="239.09" cy="451.05" r="2.2"/><circle cx="247.4" cy="451.05" r="2.2"/><circle cx="255.7" cy="451.05" r="2.2"/><circle cx="264" cy="451.05" r="2.2"/><circle cx="272.31" cy="451.05" r="2.2"/><circle cx="280.61" cy="451.05" r="2.2"/><circle cx="288.92" cy="451.05" r="2.2"/><circle cx="297.22" cy="451.05" r="2.2"/><circle cx="305.52" cy="451.05" r="2.2"/><circle cx="313.83" cy="345.56" r="2.2"/><circle cx="322.13" cy="356.11" r="2.2"/><circle cx="330.44" cy="340.43" r="2.2"/><circle cx="338.74" cy="349.21" r="2.2"/><circle cx="347.04" cy="344.42" r="2.2"/><circle cx="355.35" cy="347.5" r="2.2"/><circle cx="363.65" cy="351.49" r="2.2"/><circle cx="371.96" cy="347.27" r="2.2"/><circle cx="380.26" cy="337.01" r="2.2"/><circle cx="388.56" cy="345.79" r="2.2"/><circle cx="396.87" cy="347.73" r="2.2"/><circle cx="405.17" cy="341" r="2.2"/><circle cx="413.48" cy="350.69" r="2.2"/><circle cx="421.78" cy="339.18" r="2.2"/><circle cx="430.08" cy="345.79" r="2.2"/><circle cx="438.39" cy="336.78" r="2.2"/><circle cx="446.69" cy="341.06" r="2.2"/><circle cx="455" cy="348.19" r="2.2"/><circle cx="463.3" cy="346.02" r="2.2"/><circle cx="471.6" cy="342.26" r="2.2"/><circle cx="479.91" cy="345.56" r="2.2"/><circle cx="488.21" cy="339.98" r="2.2"/><circle cx="496.52" cy="342.26" r="2.2"/><circle cx="504.82" cy="349.73" r="2.2"/><circle cx="513.12" cy="358.73" r="2.2"/><circle cx="521.43" cy="347.67" r="2.2"/><circle cx="529.73" cy="348.41" r="2.2"/><circle cx="538.04" cy="340.72" r="2.2"/><circle cx="546.34" cy="349.73" r="2.2"/><circle cx="554.64" cy="347.22" r="2.2"/><circle cx="562.95" cy="343.28" r="2.2"/><circle cx="571.25" cy="338.49" r="2.2"/><circle cx="579.56" cy="340.72" r="2.2"/><circle cx="587.86" cy="344.48" r="2.2"/><circle cx="596.16" cy="351.04" r="2.2"/><circle cx="604.47" cy="352.46" r="2.2"/><circle cx="612.77" cy="343.68" r="2.2"/><circle cx="621.08" cy="344.14" r="2.2"/><circle cx="629.38" cy="352.46" r="2.2"/><circle cx="637.68" cy="338.15" r="2.2"/><circle cx="645.99" cy="351.26" r="2.2"/><circle cx="654.29" cy="337.01" r="2.2"/><circle cx="662.6" cy="348.64" r="2.2"/><circle cx="670.9" cy="339.86" r="2.2"/><circle cx="679.2" cy="352.46" r="2.2"/><circle cx="687.51" cy="343" r="2.2"/><circle cx="695.81" cy="342.26" r="2.2"/><circle cx="704.12" cy="344.14" r="2.2"/><circle cx="712.42" cy="451.05" r="2.2"/><circle cx="720.72" cy="451.05" r="2.2"/><circle cx="729.03" cy="451.05" r="2.2"/><circle cx="737.33" cy="451.05" r="2.2"/><circle cx="745.64" cy="451.05" r="2.2"/><circle cx="753.94" cy="451.05" r="2.2"/><circle cx="762.24" cy="451.05" r="2.2"/><circle cx="770.55" cy="451.05" r="2.2"/><circle cx="778.85" cy="451.05" r="2.2"/><circle cx="787.16" cy="451.05" r="2.2"/><circle cx="795.46" cy="451.05" r="2.2"/><circle cx="803.76" cy="451.05" r="2.2"/><circle cx="812.07" cy="451.05" r="2.2"/><circle cx="820.37" cy="451.05" r="2.2"/><circle cx="828.68" cy="451.05" r="2.2"/><circle cx="836.98" cy="451.05" r="2.2"/></g></svg></body></html>
